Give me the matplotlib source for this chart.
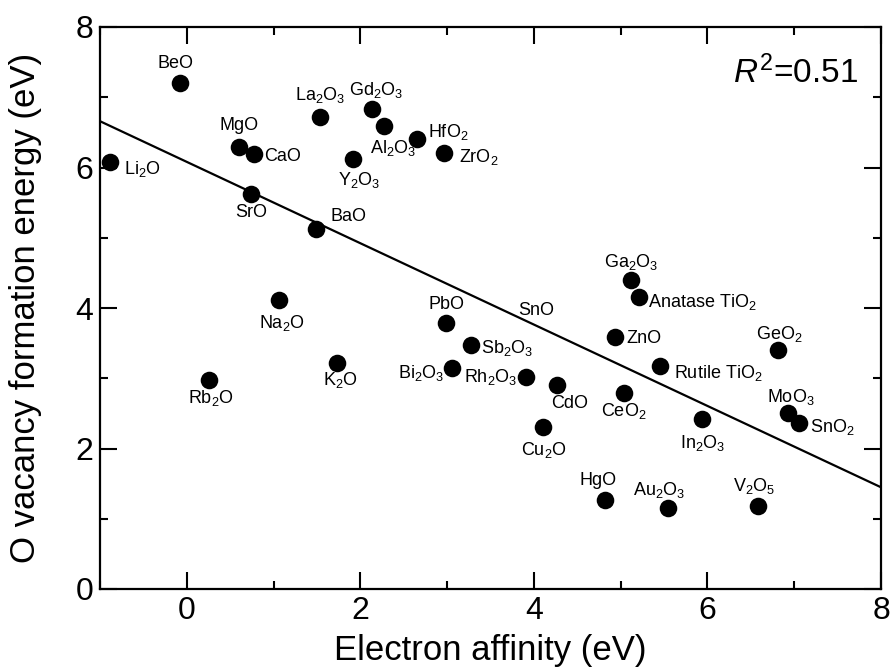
import matplotlib
matplotlib.use("Agg")
import matplotlib.pyplot as plt
from matplotlib import font_manager
from matplotlib.ticker import MultipleLocator

avail = {f.name for f in font_manager.fontManager.ttflist}
main_font = "Liberation Sans" if "Liberation Sans" in avail else "DejaVu Sans"
narrow_font = "Liberation Sans Narrow" if "Liberation Sans Narrow" in avail else main_font

plt.rcParams["mathtext.fontset"] = "custom"
plt.rcParams["mathtext.rm"] = narrow_font
plt.rcParams["mathtext.it"] = main_font + ":italic"
plt.rcParams["mathtext.sf"] = main_font

# ---- data ----
names = ["Li$_2$O", "BeO", "MgO", "CaO", "SrO", "BaO", "La$_2$O$_3$", "Gd$_2$O$_3$",
         "Al$_2$O$_3$", "HfO$_2$", "ZrO$_2$", "Y$_2$O$_3$", "Na$_2$O", "Rb$_2$O",
         "K$_2$O", "PbO", "Sb$_2$O$_3$", "Bi$_2$O$_3$", "Rh$_2$O$_3$", "CdO",
         "Cu$_2$O", "Ga$_2$O$_3$", "Anatase TiO$_2$", "ZnO", "Rutile TiO$_2$",
         "CeO$_2$", "In$_2$O$_3$", "GeO$_2$", "MoO$_3$", "SnO$_2$", "HgO",
         "Au$_2$O$_3$", "V$_2$O$_5$"]
electron_affinity = [-0.88, -0.08, 0.60, 0.77, 0.74, 1.49, 1.54, 2.13,
                     2.27, 2.65, 2.96, 1.92, 1.06, 0.26,
                     1.73, 2.99, 3.27, 3.06, 3.91, 4.27,
                     4.11, 5.12, 5.21, 4.93, 5.45,
                     5.04, 5.94, 6.81, 6.93, 7.06, 4.82,
                     5.54, 6.58]
vacancy_energy = [6.08, 7.20, 6.29, 6.19, 5.62, 5.12, 6.72, 6.83,
                  6.59, 6.41, 6.21, 6.12, 4.11, 2.97,
                  3.22, 3.78, 3.47, 3.15, 3.02, 2.90,
                  2.31, 4.40, 4.16, 3.59, 3.18,
                  2.79, 2.42, 3.40, 2.51, 2.36, 1.27,
                  1.15, 1.18]
unmarked_label = "SnO"
unmarked_pos = (4.03, 3.96)
fit_slope = -0.579
fit_intercept = 6.08
r2_text = "$\\mathit{R}^{\\mathsf{2}}$=0.51"
x_range = (-1, 8)
y_range = (0, 8)

# label offsets (pixels) and horizontal alignment -- styling only
label_style = [
    ((14, -7), "left"), ((-4, 20), "center"), ((0, 22), "center"), ((11, -2), "left"),
    ((0, -18), "center"), ((14, 13), "left"), ((0, 22), "center"), ((5, 19), "center"),
    ((9, -22), "center"), ((11, 7), "left"), ((15, -4), "left"), ((6, -21), "center"),
    ((3, -23), "center"), ((2, -18), "center"), ((4, -17), "center"), ((0, 19), "center"),
    ((10, -3), "left"), ((-8, -5), "right"), ((-9, 0), "right"), ((12, -18), "center"),
    ((0, -23), "center"), ((0, 18), "center"), ((9, -5), "left"), ((12, -2), "left"),
    ((14, -7), "left"), ((0, -18), "center"), ((0, -24), "center"), ((2, 16), "center"),
    ((3, 16), "center"), ((11, -4), "left"), ((-7, 19), "center"), ((-8, 18), "center"),
    ((-4, 20), "center"),
]

fig = plt.figure(figsize=(8.93, 6.72), dpi=100)
ax = fig.add_axes([100 / 893, 83 / 672, 781 / 893, 562 / 672])

xs = [x_range[0], x_range[1]]
ax.plot(xs, [fit_intercept + fit_slope * x for x in xs], color="black", lw=1.6, zorder=2)
ax.scatter(electron_affinity, vacancy_energy, s=160, color="black", zorder=3, linewidths=0)

for name, x, y, (off, ha) in zip(names, electron_affinity, vacancy_energy, label_style):
    ax.annotate(name, (x, y), xytext=off, textcoords="offset pixels", ha=ha, va="center",
                fontsize=13, family=narrow_font, zorder=4)
ax.text(unmarked_pos[0], unmarked_pos[1], unmarked_label, ha="center", va="center",
        fontsize=13, family=narrow_font)

ax.text(0.97, 0.918, r2_text, transform=ax.transAxes, ha="right", va="center",
        fontsize=24, family=main_font)

ax.set_xlim(*x_range)
ax.set_ylim(*y_range)
ax.xaxis.set_major_locator(MultipleLocator(2))
ax.xaxis.set_minor_locator(MultipleLocator(1))
ax.yaxis.set_major_locator(MultipleLocator(2))
ax.yaxis.set_minor_locator(MultipleLocator(1))
ax.tick_params(which="both", direction="in", top=True, right=True, width=1.5, color="black")
ax.tick_params(which="major", length=12, labelsize=23, pad=5)
ax.tick_params(which="minor", length=6)
for lab in ax.get_xticklabels() + ax.get_yticklabels():
    lab.set_family(main_font)
for sp in ax.spines.values():
    sp.set_linewidth(1.6)

ax.set_xlabel("Electron affinity (eV)", fontsize=25, family=main_font, labelpad=6)
ax.set_ylabel("O vacancy formation energy (eV)", fontsize=25, family=main_font, labelpad=24)

fig.savefig("out.png", dpi=100)
